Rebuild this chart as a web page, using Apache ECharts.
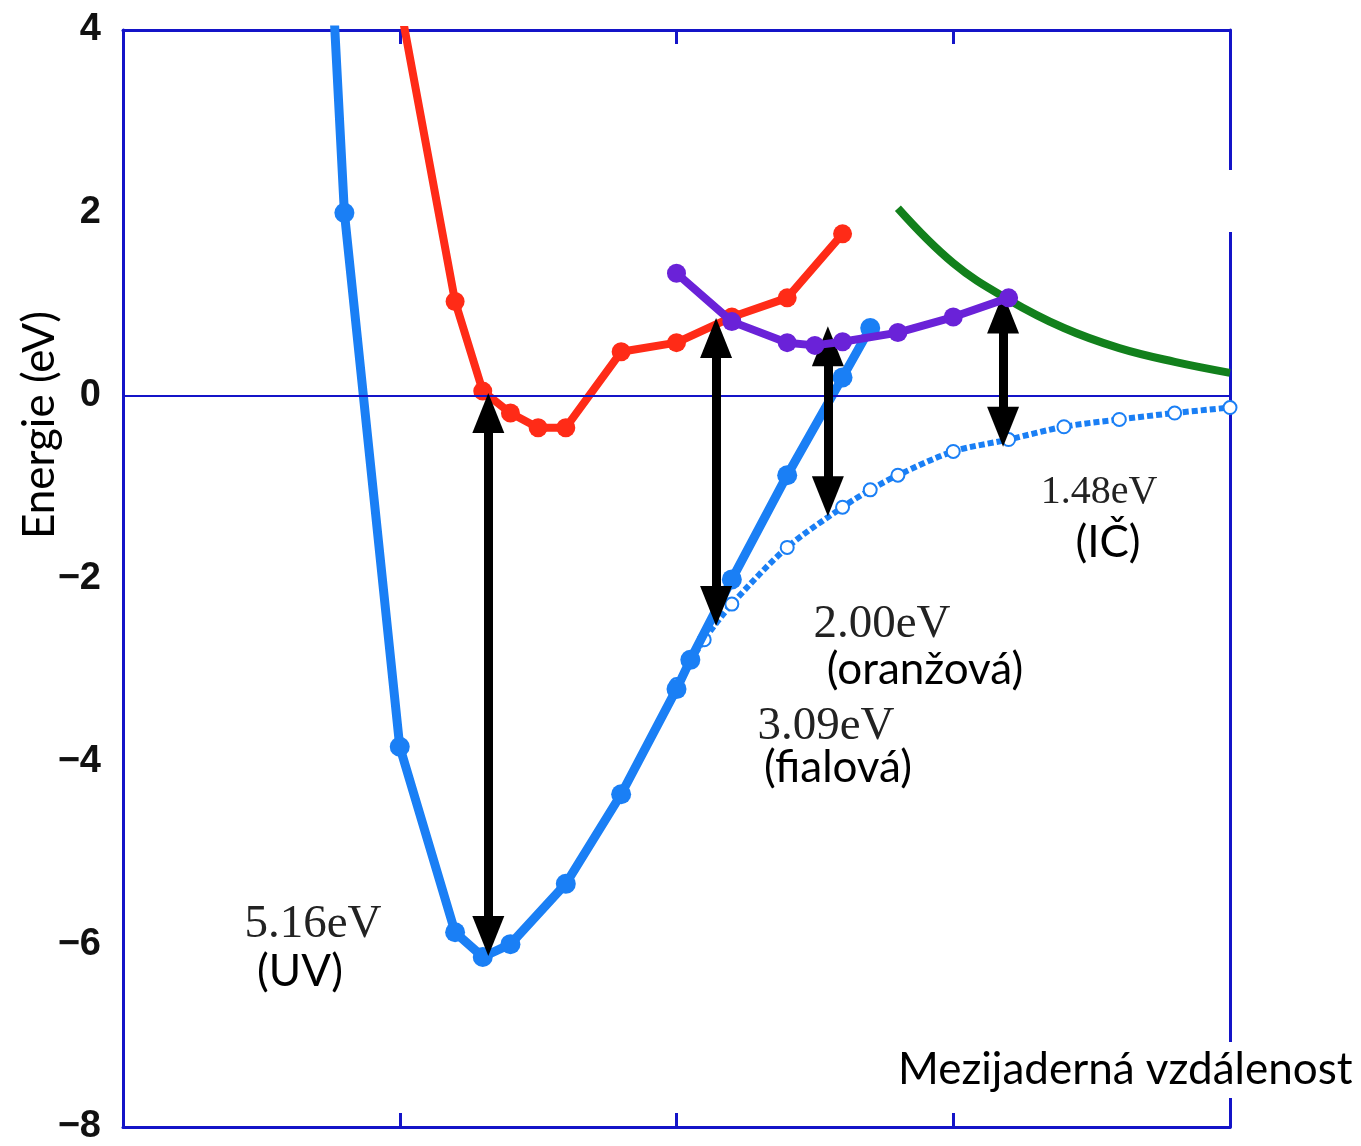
<!DOCTYPE html>
<html>
<head>
<meta charset="utf-8">
<script src="https://cdn.jsdelivr.net/npm/echarts@6/dist/echarts.min.js"></script>
<style>
  html, body { margin: 0; padding: 0; background: #fff; }
  #chart { width: 1361px; height: 1146px; }
</style>
</head>
<body>
<div id="chart"></div>
<script>
// ground state (solid blue)
var groundX = [0.7, 0.8, 1.0, 1.2, 1.3, 1.4, 1.6, 1.8, 2.0, 2.05, 2.2, 2.4, 2.6, 2.7];
var groundY = [7.8, 2.0, -3.84, -5.87, -6.14, -6.0, -5.34, -4.36, -3.21, -2.89, -2.01, -0.87, 0.2, 0.74];
// ground state asymptote (dashed blue, open circles)
var asymX = [2.0, 2.1, 2.2, 2.4, 2.6, 2.7, 2.8, 3.0, 3.2, 3.4, 3.6, 3.8, 4.0];
var asymY = [-3.16, -2.67, -2.28, -1.66, -1.22, -1.03, -0.87, -0.61, -0.48, -0.34, -0.26, -0.19, -0.13];
// excited states
var redX = [1.0, 1.2, 1.3, 1.4, 1.5, 1.6, 1.8, 2.0, 2.2, 2.4, 2.6];
var redY = [4.3, 1.03, 0.05, -0.19, -0.35, -0.35, 0.48, 0.58, 0.86, 1.07, 1.77];
var purpleX = [2.0, 2.2, 2.4, 2.5, 2.6, 2.8, 3.0, 3.2];
var purpleY = [1.34, 0.81, 0.58, 0.55, 0.59, 0.69, 0.86, 1.07];
var greenX = [2.8, 3.0, 3.2, 3.4, 3.6, 3.8, 4.0];
var greenY = [2.05, 1.45, 1.05, 0.74, 0.52, 0.37, 0.25];
// transitions (arrow tips)
var arrowX = [1.32, 2.143, 2.547, 3.18];
var arrowTop = [0.01, 0.83, 0.74, 1.1];
var arrowBottom = [-6.11, -2.5, -1.3, -0.54];
var yTicks = [-8, -6, -4, -2, 0, 2, 4];

function pairs(xs, ys) {
  return xs.map(function (x, i) { return [x, ys[i]]; });
}

var axisBlue = '#1414c8';
var blue = '#1a7ff5';
var headHalf = 0.2;
var arrowLines = arrowX.map(function (x, i) {
  return [
    { coord: [x, arrowBottom[i] + headHalf] },
    { coord: [x, arrowTop[i] - headHalf] }
  ];
});

function xAxisDef(pos) {
  return {
    type: 'value', min: 0, max: 4, interval: 1, position: pos,
    axisLine: { onZero: false, lineStyle: { color: axisBlue, width: 3 } },
    axisTick: { inside: true, length: 14, lineStyle: { color: axisBlue, width: 3 } },
    axisLabel: { show: false },
    splitLine: { show: false }
  };
}

var chart = echarts.init(document.getElementById('chart'));
var option = {
  animation: false,
  grid: { left: 123, right: 131, top: 30, bottom: 18 },
  xAxis: [xAxisDef('bottom'), xAxisDef('top')],
  yAxis: [{
    type: 'value', min: yTicks[0], max: yTicks[yTicks.length - 1], interval: 2, position: 'left',
    axisLine: { show: true, onZero: false, lineStyle: { color: axisBlue, width: 3 } },
    axisTick: { show: false },
    splitLine: { show: false },
    axisLabel: {
      margin: 22, fontSize: 38, fontWeight: 'bold', color: '#111',
      fontFamily: 'Liberation Sans',
      formatter: function (v) { return v < 0 ? '\u2212' + Math.abs(v) : String(v); }
    }
  }, {
    type: 'value', min: yTicks[0], max: yTicks[yTicks.length - 1], interval: 2, position: 'right',
    axisLine: { show: true, onZero: false, lineStyle: { color: axisBlue, width: 3 } },
    axisTick: { show: false },
    axisLabel: { show: false },
    splitLine: { show: false }
  }],
  series: [{
    name: 'nula',
    type: 'line',
    data: [],
    z: 1,
    markLine: {
      silent: true, symbol: 'none', label: { show: false },
      lineStyle: { color: axisBlue, width: 2, type: 'solid' },
      data: [{ yAxis: 0 }]
    }
  }, {
    name: 'zeleny',
    type: 'line',
    data: pairs(greenX, greenY),
    smooth: 0.4,
    showSymbol: false,
    lineStyle: { color: '#12801c', width: 8 },
    z: 3
  }, {
    name: 'cerveny',
    type: 'line',
    data: pairs(redX, redY),
    symbol: 'circle', symbolSize: 19,
    itemStyle: { color: '#ff2b17' },
    lineStyle: { color: '#ff2b17', width: 8 },
    z: 3
  }, {
    name: 'asymptota',
    type: 'line',
    data: pairs(asymX, asymY),
    smooth: 0.3,
    symbol: 'emptyCircle', symbolSize: 13,
    showAllSymbol: true,
    itemStyle: { color: blue, borderWidth: 2 },
    lineStyle: { color: blue, width: 6, type: [6, 3] },
    z: 3
  }, {
    name: 'zakladni',
    type: 'line',
    data: pairs(groundX, groundY),
    symbol: 'circle', symbolSize: 20,
    itemStyle: { color: blue },
    lineStyle: { color: blue, width: 9 },
    z: 4
  }, {
    name: 'fialovy',
    type: 'line',
    data: pairs(purpleX, purpleY),
    symbol: 'circle', symbolSize: 19,
    itemStyle: { color: '#6a22d8' },
    lineStyle: { color: '#6a22d8', width: 8 },
    z: 5
  }, {
    name: 'prechody',
    type: 'line',
    data: [],
    z: 10,
    markLine: {
      silent: true,
      symbol: ['triangle', 'triangle'],
      symbolSize: [32, 40],
      label: { show: false },
      lineStyle: { color: '#000', width: 9, type: 'solid', opacity: 1 },
      itemStyle: { color: '#000' },
      data: arrowLines
    }
  }],
  graphic: [
    { type: 'rect', shape: { x: 1220, y: 170, width: 20, height: 62 }, style: { fill: '#fff' }, z: 100 },
    { type: 'text', x: 896, y: 1070, z: 100,
      style: { text: 'Mezijaderná vzdálenost', font: '44px Lato', fill: '#000',
        verticalAlign: 'middle', backgroundColor: '#fff', padding: [6, 6, 6, 2] } },
    { type: 'text', x: 40, y: 425, rotation: Math.PI / 2, z: 100,
      style: { text: 'Energie (eV)', font: '44px Lato', fill: '#000', align: 'center', verticalAlign: 'middle' } },
    { type: 'text', x: 313, y: 925, z: 100,
      style: { text: '5.16eV', font: '47px "Liberation Serif"', fill: '#222', align: 'center', verticalAlign: 'middle' } },
    { type: 'text', x: 300, y: 972, z: 100,
      style: { text: '(UV)', font: '44px Lato', fill: '#000', align: 'center', verticalAlign: 'middle' } },
    { type: 'text', x: 826, y: 727, z: 100,
      style: { text: '3.09eV', font: '47px "Liberation Serif"', fill: '#222', align: 'center', verticalAlign: 'middle' } },
    { type: 'text', x: 838, y: 768, z: 100,
      style: { text: '(fialová)', font: '44px Lato', fill: '#000', align: 'center', verticalAlign: 'middle' } },
    { type: 'text', x: 882, y: 625, z: 100,
      style: { text: '2.00eV', font: '47px "Liberation Serif"', fill: '#222', align: 'center', verticalAlign: 'middle' } },
    { type: 'text', x: 925, y: 670, z: 100,
      style: { text: '(oranžová)', font: '44px Lato', fill: '#000', align: 'center', verticalAlign: 'middle' } },
    { type: 'text', x: 1099, y: 492, z: 100,
      style: { text: '1.48eV', font: '40px "Liberation Serif"', fill: '#222', align: 'center', verticalAlign: 'middle' } },
    { type: 'text', x: 1108, y: 543, z: 100,
      style: { text: '(IČ)', font: '44px Lato', fill: '#000', align: 'center', verticalAlign: 'middle' } }
  ]
};
chart.setOption(option);
</script>
</body>
</html>
